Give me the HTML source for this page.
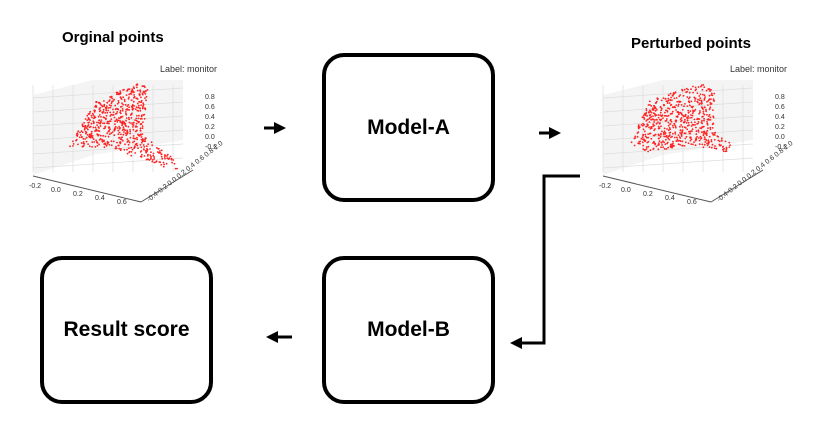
<!DOCTYPE html>
<html><head><style>
body{margin:0;width:829px;height:431px;background:#fff;overflow:hidden;font-family:"Liberation Sans",sans-serif}
.box{position:absolute;border:4px solid #000;border-radius:22px;box-sizing:border-box;display:flex;align-items:center;justify-content:center;font-weight:bold;font-size:21px}
.t{position:absolute;font-weight:bold;font-size:15px}
</style></head><body>
<div class="t" style="left:62px;top:29px">Orginal points</div>
<div class="t" style="left:631px;top:35px">Perturbed points</div>
<div class="box" style="left:322px;top:53px;width:173px;height:149px">Model-A</div>
<div class="box" style="left:322px;top:256px;width:173px;height:148px">Model-B</div>
<div class="box" style="left:40px;top:256px;width:173px;height:148px">Result score</div>
<svg width="829" height="431" style="position:absolute;left:0;top:0" id="s">
<defs><marker id="a" markerWidth="4" markerHeight="4" refX="2" refY="2" orient="auto"><path d="M0,0L4,2L0,4z" fill="#000"/></marker></defs>
<g stroke="#000" stroke-width="3" fill="none">
<line x1="264" y1="128" x2="280" y2="128" marker-end="url(#a)"/>
<line x1="539" y1="133" x2="555" y2="133" marker-end="url(#a)"/>
<line x1="292" y1="337" x2="272" y2="337" marker-end="url(#a)"/>
<polyline points="580,176 544,176 544,343 516,343" marker-end="url(#a)"/>
</g>
<g id="p1"></g><g id="p2"></g>
</svg>
<script>
function plot(g,ox,oy,poly,lab){
 var s='';
 s+='<polygon points="'+[[0,15],[60,0],[150,0],[150,60],[60,75],[0,95]].map(p=>(p[0]+ox)+','+(p[1]+oy)).join(' ')+'" fill="#f4f4f4"/>';
 for(var i=0;i<8;i++){var x=ox+i*20;s+='<line x1="'+x+'" y1="'+(oy+5)+'" x2="'+x+'" y2="'+(oy+92)+'" stroke="#ddd" stroke-width="0.7"/>';}
 for(var j=0;j<6;j++){var y=oy+8+j*14;s+='<line x1="'+ox+'" y1="'+(y+10)+'" x2="'+(ox+150)+'" y2="'+y+'" stroke="#ddd" stroke-width="0.7"/>';}
 s+='<line x1="'+ox+'" y1="'+(oy+96)+'" x2="'+(ox+108)+'" y2="'+(oy+122)+'" stroke="#555"/>';
 s+='<line x1="'+(ox+108)+'" y1="'+(oy+122)+'" x2="'+(ox+160)+'" y2="'+(oy+90)+'" stroke="#555"/>';
 s+='<text x="'+(ox+127)+'" y="'+(oy-8)+'" font-size="9" fill="#333" font-family="Liberation Sans">'+lab+'</text>';
 var yl=['0.8','0.6','0.4','0.2','0.0','-0.2'];
 yl.forEach((t,k)=>s+='<text x="'+(ox+172)+'" y="'+(oy+19+k*10)+'" font-size="7" fill="#333" font-family="Liberation Sans">'+t+'</text>');
 ['-0.2','0.0','0.2','0.4','0.6'].forEach((t,k)=>s+='<text x="'+(ox+k*22-4)+'" y="'+(oy+108+k*4)+'" font-size="7" fill="#333" font-family="Liberation Sans">'+t+'</text>');
 s+='<text x="'+(ox+116)+'" y="'+(oy+122)+'" font-size="7" fill="#333" transform="rotate(-38 '+(ox+116)+' '+(oy+122)+')" font-family="Liberation Sans">-0.4-0.2 0.0 0.2 0.4 0.6 0.8 1.0</text>';
 var P=poly.map(p=>[p[0]+ox,p[1]*0.85+oy]);
 function inside(x,y){var c=false;for(var i=0,j=P.length-1;i<P.length;j=i++){var a=P[i],b=P[j];if((a[1]>y)!=(b[1]>y)&&x<(b[0]-a[0])*(y-a[1])/(b[1]-a[1])+a[0])c=!c;}return c;}
 var seed=ox+7;function r(){seed=(seed*9301+49297)%233280;return seed/233280;}
 var n=0;while(n<650){var x=ox+r()*170,y=oy+r()*150;if(inside(x,y)){s+='<circle cx="'+x.toFixed(1)+'" cy="'+y.toFixed(1)+'" r="0.9" fill="#f22"/>';n++;}}
 document.getElementById(g).innerHTML=s;
}
plot('p1',33,80,[[38,75],[62,25],[108,3],[115,10],[110,65],[140,92],[145,105],[120,100],[80,80],[35,78]],'Label: monitor');
plot('p2',603,80,[[30,70],[45,25],[100,3],[112,15],[110,60],[135,80],[125,85],[90,78],[40,85],[27,75]],'Label: monitor');
</script>
</body></html>
